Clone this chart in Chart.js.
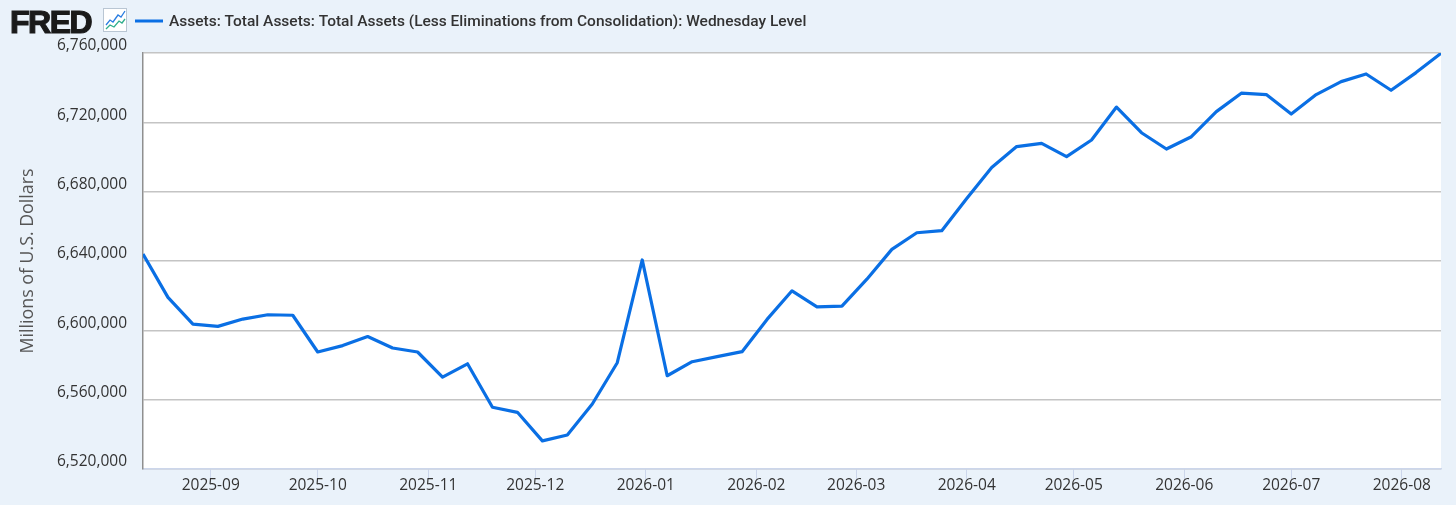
<!DOCTYPE html>
<html lang="en">
<head>
  <meta charset="UTF-8">
  <title>Assets: Total Assets - Wednesday Level</title>
  <script src="https://cdn.jsdelivr.net/npm/chart.js"></script>
  <style>
    html, body { margin: 0; padding: 0; background: #eaf2fa; }
    #wrap { width: 1456px; height: 505px; position: relative; }
  </style>
</head>
<body>
  <div id="wrap"><canvas id="assetsChart"></canvas></div>

  <script>
    // weekly Wednesday levels, millions of dollars
    const startDate = '2025-08-13';
    const assetValues = [
      6644000, 6619000, 6603600, 6602300, 6606500, 6609000, 6608700, 6587500,
      6591200, 6596400, 6589800, 6587500, 6573000, 6580700, 6555600, 6552700,
      6536200, 6539600, 6557500, 6581300, 6640600, 6573800, 6581900, 6584800,
      6587700, 6606300, 6622800, 6613500, 6614000, 6629500, 6646700, 6656300,
      6657500, 6676000, 6694000, 6706000, 6707900, 6700200, 6709800, 6728800,
      6714000, 6704600, 6711700, 6726200, 6736800, 6736000, 6724800, 6736000,
      6743500, 6747900, 6738500, 6748700, 6759800
    ];
    const monthTicks = ['2025-09', '2025-10', '2025-11', '2025-12', '2026-01', '2026-02',
      '2026-03', '2026-04', '2026-05', '2026-06', '2026-07', '2026-08'];
    const yTicks = [6520000, 6560000, 6600000, 6640000, 6680000, 6720000, 6760000];
    const seriesTitle = 'Assets: Total Assets: Total Assets (Less Eliminations from Consolidation): Wednesday Level';
    const yTitle = 'Millions of U.S. Dollars';

    const DAY = 86400000;
    const t0 = Date.parse(startDate + 'T00:00:00Z');
    const dayOf = (s) => Math.round((Date.parse(s + 'T00:00:00Z') - t0) / DAY);

    // x = days since first observation
    const points = assetValues.map((v, i) => ({ x: i * 7, y: v }));
    const monthDays = monthTicks.map(m => dayOf(m + '-01'));

    const BLUE = '#0a6fe4';

    const background = {
      id: 'background',
      beforeDraw(chart) {
        const { ctx, chartArea: a } = chart;
        ctx.save();
        ctx.fillStyle = '#eaf2fa';
        ctx.fillRect(0, 0, chart.width, chart.height);
        ctx.fillStyle = '#ffffff';
        ctx.fillRect(a.left, a.top, a.right - a.left, a.bottom - a.top);
        ctx.restore();
      }
    };

    // FRED logo + legend line + series name
    const header = {
      id: 'header',
      afterDraw(chart) {
        const ctx = chart.ctx;
        ctx.save();
        ctx.fillStyle = '#1a1a1a';
        ctx.strokeStyle = '#1a1a1a';
        ctx.lineWidth = 1.2;
        ctx.font = 'bold 32px "Liberation Sans", Arial, sans-serif';
        ctx.letterSpacing = '-1.5px';
        ctx.textBaseline = 'alphabetic';
        ctx.fillText('FRED', 10, 32.5);
        ctx.strokeText('FRED', 10, 32.5);
        ctx.letterSpacing = '0px';

        // little graph icon
        ctx.fillStyle = '#ffffff';
        ctx.strokeStyle = '#b9c6d3';
        ctx.lineWidth = 1;
        ctx.fillRect(103.5, 8.5, 23, 23);
        ctx.strokeRect(103.5, 8.5, 23, 23);
        ctx.lineWidth = 1.3;
        ctx.strokeStyle = '#2a7de1';
        ctx.beginPath();
        ctx.moveTo(106, 25); ctx.lineTo(110, 20); ctx.lineTo(113, 22); ctx.lineTo(118, 15); ctx.lineTo(121, 17); ctx.lineTo(125, 11);
        ctx.stroke();
        ctx.strokeStyle = '#2fae8c';
        ctx.beginPath();
        ctx.moveTo(106, 29); ctx.lineTo(110, 25); ctx.lineTo(114, 27); ctx.lineTo(119, 21); ctx.lineTo(122, 23); ctx.lineTo(125, 19);
        ctx.stroke();

        // legend swatch
        ctx.strokeStyle = BLUE;
        ctx.lineWidth = 3;
        ctx.beginPath();
        ctx.moveTo(135, 21);
        ctx.lineTo(163, 21);
        ctx.stroke();

        ctx.fillStyle = '#333333';
        ctx.font = '500 15.5px Roboto, sans-serif';
        ctx.textBaseline = 'alphabetic';
        ctx.fillText(seriesTitle, 169, 26);
        ctx.restore();
      }
    };

    const ctx = document.getElementById('assetsChart').getContext('2d');
    new Chart(ctx, {
      type: 'line',
      data: {
        datasets: [{
          label: seriesTitle,
          data: points,
          borderColor: BLUE,
          borderWidth: 3.2,
          pointRadius: 0,
          tension: 0,
          fill: false,
          borderJoinStyle: 'round'
        }]
      },
      options: {
        responsive: true,
        maintainAspectRatio: false,
        animation: false,
        layout: { padding: { top: 53, right: 15, left: 0, bottom: 0 } },
        plugins: {
          legend: { display: false },
          tooltip: { enabled: false }
        },
        scales: {
          x: {
            type: 'linear',
            min: 0,
            max: (assetValues.length - 1) * 7,
            afterBuildTicks(scale) {
              scale.ticks = monthDays.map(d => ({ value: d }));
            },
            afterFit(scale) { scale.height = 36; },
            grid: {
              drawOnChartArea: false,
              drawTicks: true,
              tickLength: 10,
              tickColor: '#ccd6eb',
              tickWidth: 1
            },
            border: { color: '#ccd6eb', width: 1.5 },
            ticks: {
              autoSkip: false,
              maxRotation: 0,
              padding: -3,
              color: '#333333',
              font: { family: '"Open Sans", sans-serif', size: 15.5 },
              callback(value) {
                const i = monthDays.indexOf(value);
                return i >= 0 ? monthTicks[i] : '';
              }
            }
          },
          y: {
            min: yTicks[0],
            max: yTicks[yTicks.length - 1],
            afterBuildTicks(scale) {
              scale.ticks = yTicks.map(v => ({ value: v }));
            },
            afterFit(scale) { scale.width = 143; },
            grid: {
              color: '#c4c4c4',
              lineWidth: 1.5,
              drawTicks: false
            },
            border: { color: '#8f8f8f', width: 1.5 },
            ticks: {
              padding: 16,
              labelOffset: -7,
              color: '#333333',
              font: { family: '"Open Sans", sans-serif', size: 15.5 },
              callback(value) { return value.toLocaleString('en-US'); }
            },
            title: {
              display: true,
              text: yTitle,
              color: '#555555',
              padding: { top: 17, bottom: 0 },
              font: { family: '"Open Sans", sans-serif', size: 17.8 }
            }
          }
        }
      },
      plugins: [background, header]
    });
  </script>
</body>
</html>
